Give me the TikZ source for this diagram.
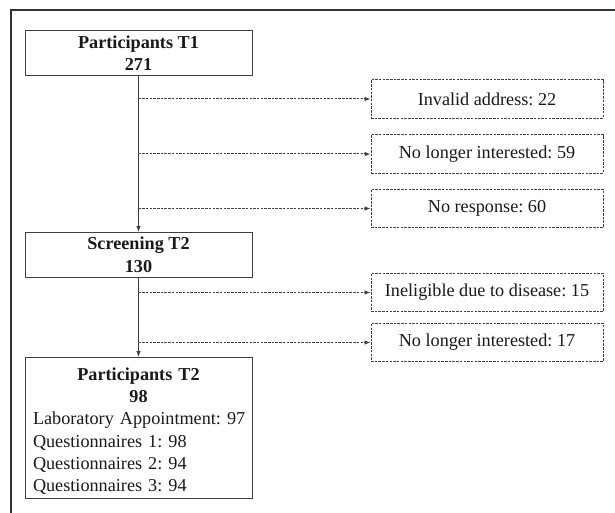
\documentclass[tikz,border=0pt]{standalone}
\usepackage{fontspec}
\setmainfont{Liberation Serif}
\usetikzlibrary{arrows.meta,calc,positioning}
\frenchspacing

\begin{document}
\begin{tikzpicture}[x=1pt,y=-1pt,
  every node/.style={font=\fontsize{18.2}{21.6}\selectfont, text=black!90},
  mainbox/.style={draw=black!75, line width=1pt, minimum width=227pt, inner xsep=5pt, inner ysep=4pt},
  headbox/.style={mainbox, align=center, font=\fontsize{18.2}{22.5}\selectfont\bfseries},
  dropbox/.style={draw=black!75, line width=0.9pt, dash pattern=on 2.5pt off 1.2pt, minimum width=232pt, minimum height=38.5pt},
  flow/.style={draw=black!75, line width=1pt, -{Latex[length=6pt,width=4.5pt]}},
  drop/.style={flow, dash pattern=on 2.5pt off 1.2pt}]
\useasboundingbox (0,0) rectangle (615,513);
\draw[line width=1.6pt, black!80] (11,513) -- (11,10) -- (615,10);

\node[headbox, anchor=north, minimum height=45.5pt] (t1) at (138.5,30) {Participants T1\\271};
\node[headbox, anchor=north, minimum height=45pt] (scr) at (138.5,232) {Screening T2\\130};
\node[mainbox, anchor=north, minimum height=141pt, text width=217pt, font=\fontsize{18.2}{22.2}\selectfont] (t2) at (138.5,357)
  {\noindent{\centering\bfseries\rule{0pt}{19pt}Participants T2\\98\par}\raggedright\leftskip=3pt\noindent Laboratory Appointment: 97\\Questionnaires 1: 98\\Questionnaires 2: 94\\Questionnaires 3: 94\par};

\node[dropbox] (inv) at (487,99) {Invalid address: 22};
\node[dropbox] (nli1) at (487,154) {No longer interested: 59};
\node[dropbox] (nore) at (487,208.5) {No response: 60};
\node[dropbox] (inel) at (487,292.5) {Ineligible due to disease: 15};
\node[dropbox] (nli2) at (487,342.5) {No longer interested: 17};

\draw[flow] (t1) -- (scr);
\draw[flow] (scr) -- (t2);
\draw[drop] (t1.south |- inv.west) -- (inv.west);
\draw[drop] (t1.south |- nli1.west) -- (nli1.west);
\draw[drop] (t1.south |- nore.west) -- (nore.west);
\draw[drop] (scr.south |- inel.west) -- (inel.west);
\draw[drop] (scr.south |- nli2.west) -- (nli2.west);
\end{tikzpicture}
\end{document}
